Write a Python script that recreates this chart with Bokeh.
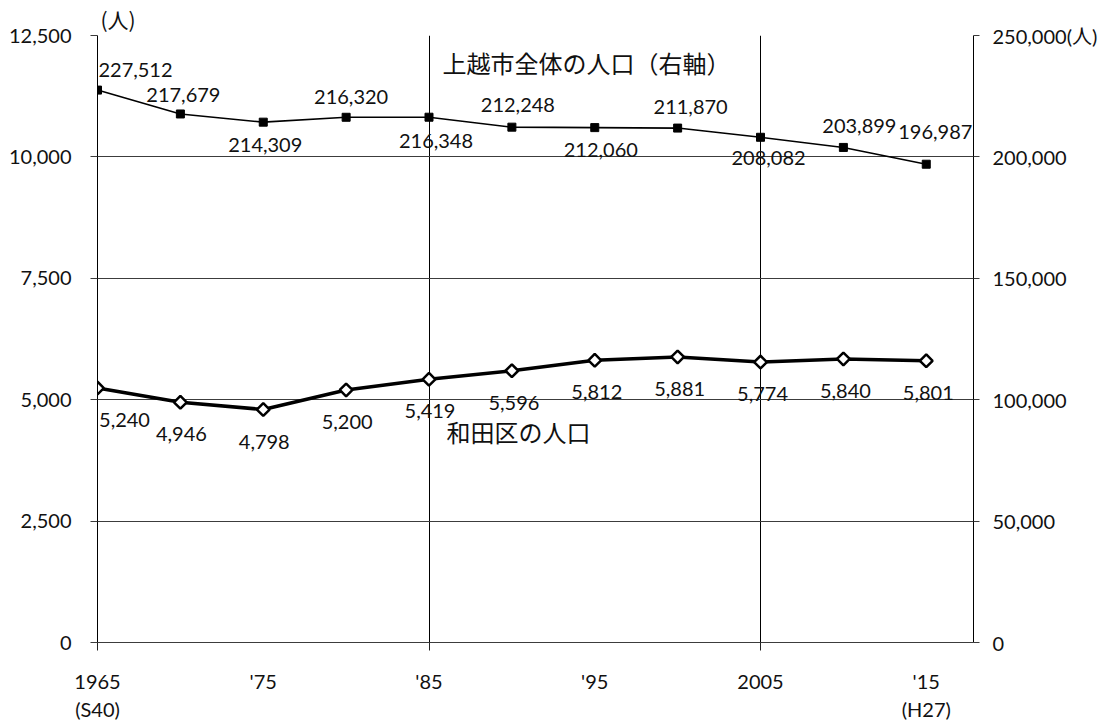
from bokeh.plotting import figure
from bokeh.models import (Range1d, LinearAxis, FixedTicker, NumeralTickFormatter,
                          ColumnDataSource, Label)
from bokeh.core.properties import value
from bokeh.embed import file_html
from bokeh.resources import INLINE
import numpy as np

# ---- data ----
years = [1965, 1970, 1975, 1980, 1985, 1990, 1995, 2000, 2005, 2010, 2015]
joetsu_total = [227512, 217679, 214309, 216320, 216348, 212248, 212060, 211870, 208082, 203899, 196987]
wada = [5240, 4946, 4798, 5200, 5419, 5596, 5812, 5881, 5774, 5840, 5801]

x_tick_values = [1965, 1975, 1985, 1995, 2005, 2015]
x_tick_labels = ["1965\n(S40)", "'75", "'85", "'95", "2005", "'15\n(H27)"]
left_ticks = [0, 2500, 5000, 7500, 10000, 12500]
right_ticks = [0, 50000, 100000, 150000, 200000, 250000]
vgrid_years = [1965, 1985, 2005]

total_name = "上越市全体の人口（右軸）"
wada_name = "和田区の人口"
unit = "(人)"

# ---- label placement (pixels, +dy = down) ----
total_dx = [38, 3, 2, 5, 7, 6, 6, 13, 8, 16, 9]
total_dy = [-20, -19, 23, -20, 24, -22, 22, -21, 21, -21, -32]
wada_dx = [27, 1, 1, 1, 1, 2, 2, 2, 2, 2, 2]

NUM_FONT = "Lato"
JP_FONT = "Noto Sans CJK JP"

p = figure(width=1114, height=724,
           x_range=Range1d(1965, 2017.85), y_range=Range1d(0, 12500),
           output_backend="svg", toolbar_location=None,
           min_border_left=97, min_border_right=141,
           min_border_top=35, min_border_bottom=81)
p.extra_y_ranges = {"right": Range1d(0, 250000)}
p.outline_line_color = None
p.background_fill_color = "white"

# left unit label as title
p.title.text = unit
p.title.align = "left"
p.title.offset = 3
p.title.standoff = 3
p.title.text_font = JP_FONT
p.title.text_font_size = "21px"
p.title.text_font_style = "normal"
p.title.text_color = "#111111"

# grids
p.xgrid.ticker = FixedTicker(ticks=vgrid_years)
p.xgrid.grid_line_color = "black"
p.xgrid.grid_line_width = 1
p.ygrid.ticker = FixedTicker(ticks=left_ticks)
p.ygrid.grid_line_color = "#3c3c3c"
p.ygrid.grid_line_width = 1

# bottom axis
xa = p.xaxis[0]
xa.ticker = FixedTicker(ticks=x_tick_values, minor_ticks=vgrid_years)
xa.major_label_overrides = {v: l for v, l in zip(x_tick_values, x_tick_labels)}
xa.major_tick_line_color = None
xa.minor_tick_in = 0
xa.minor_tick_out = 8
xa.minor_tick_line_color = "#222222"
xa.axis_line_color = "#3c3c3c"
xa.major_label_text_font = NUM_FONT
xa.major_label_text_font_size = "20px"
xa.major_label_text_color = "#111111"
xa.major_label_standoff = 18

# left axis
ya = p.yaxis[0]
ya.ticker = FixedTicker(ticks=left_ticks)
ya.formatter = NumeralTickFormatter(format="0,0")
ya.axis_line_color = "black"
ya.major_tick_in = 0
ya.major_tick_out = 7
ya.major_tick_line_color = "#3c3c3c"
ya.minor_tick_line_color = None
ya.major_label_text_font = NUM_FONT
ya.major_label_text_font_size = "20px"
ya.major_label_text_color = "#111111"
ya.major_label_standoff = 19

# right axis
ra = LinearAxis(y_range_name="right", ticker=FixedTicker(ticks=right_ticks),
                formatter=NumeralTickFormatter(format="0,0"))
ra.major_label_overrides = {right_ticks[-1]: f"{right_ticks[-1]:,}" + unit}
ra.axis_line_color = "black"
ra.major_tick_in = 0
ra.major_tick_out = 6
ra.major_tick_line_color = "#3c3c3c"
ra.minor_tick_line_color = None
ra.major_label_text_font = NUM_FONT + ", " + JP_FONT
ra.major_label_text_font_size = "20px"
ra.major_label_text_color = "#111111"
ra.major_label_standoff = 13
p.add_layout(ra, "right")

# total (right axis)
src_t = ColumnDataSource(dict(x=years, y=joetsu_total,
                              txt=[f"{v:,}" for v in joetsu_total],
                              dx=total_dx, dy=total_dy))
p.line("x", "y", source=src_t, y_range_name="right", line_color="black", line_width=1.6)
p.scatter("x", "y", source=src_t, y_range_name="right", marker="square", size=8,
          fill_color="black", line_color="black")
p.text("x", "y", text="txt", source=src_t, y_range_name="right",
       x_offset="dx", y_offset="dy", text_align="center", text_baseline="middle",
       text_font=value(NUM_FONT), text_font_size="20px", text_color="#111111")

# wada (left axis)
src_w = ColumnDataSource(dict(x=years, y=wada, txt=[f"{v:,}" for v in wada], dx=wada_dx))
p.line("x", "y", source=src_w, line_color="black", line_width=3.5)
p.scatter("x", "y", source=src_w, marker="square", angle=np.pi / 4, size=9,
          fill_color="white", line_color="black", line_width=2.5)
p.text("x", "y", text="txt", source=src_w, x_offset="dx", y_offset=32,
       text_align="center", text_baseline="middle",
       text_font=value(NUM_FONT), text_font_size="20px", text_color="#111111")

# series names
p.add_layout(Label(x=1994.5, y=11945, text=total_name, text_align="center",
                   text_baseline="middle", text_font=JP_FONT, text_font_size="24px",
                   text_color="#111111"))
p.add_layout(Label(x=1990.4, y=4338, text=wada_name, text_align="center",
                   text_baseline="middle", text_font=JP_FONT, text_font_size="24px",
                   text_color="#111111"))

open("out.html", "w").write(file_html(p, INLINE))
